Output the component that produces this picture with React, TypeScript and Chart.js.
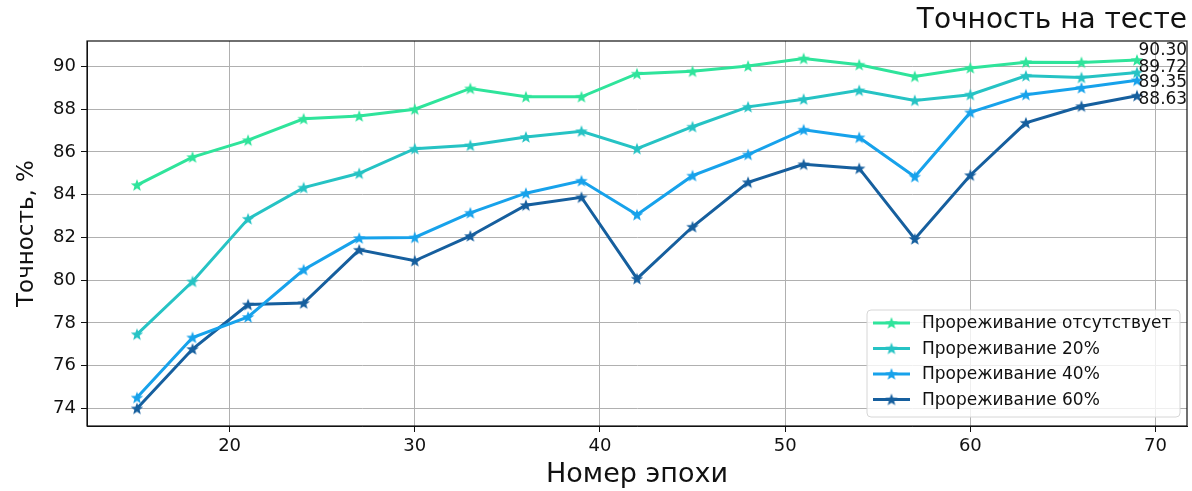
import React, { useEffect, useRef } from 'react';
import { Chart, registerables } from 'chart.js';

Chart.register(...registerables);

// ---------- data ----------
const epochs = [15, 18, 21, 24, 27, 30, 33, 36, 39, 42, 45, 48, 51, 54, 57, 60, 63, 66, 69];
const noPruning = [84.45, 85.76, 86.55, 87.55, 87.68, 88.0, 88.97, 88.58, 88.58, 89.66, 89.77, 90.02, 90.37, 90.08, 89.53, 89.93, 90.2, 90.19, 90.3];
const pruning20 = [77.47, 79.94, 82.87, 84.33, 85.0, 86.15, 86.31, 86.7, 86.97, 86.15, 87.18, 88.11, 88.47, 88.88, 88.41, 88.68, 89.56, 89.48, 89.72];
const pruning40 = [74.51, 77.32, 78.28, 80.49, 81.97, 82.0, 83.15, 84.07, 84.65, 83.06, 84.89, 85.88, 87.04, 86.68, 84.84, 87.85, 88.68, 89.0, 89.35];
const pruning60 = [74.0, 76.78, 78.86, 78.93, 81.42, 80.91, 82.07, 83.51, 83.88, 80.07, 82.5, 84.58, 85.42, 85.23, 81.93, 84.91, 87.36, 88.14, 88.63];

const seriesLabels = ['Прореживание отсутствует', 'Прореживание 20%', 'Прореживание 40%', 'Прореживание 60%'];
const seriesData = [noPruning, pruning20, pruning40, pruning60];
const seriesColors = ['#2fe49b', '#26c3c4', '#17a2eb', '#165f9e'];

const xTicks = [20, 30, 40, 50, 60, 70];
const yTicks = [74, 76, 78, 80, 82, 84, 86, 88, 90];

const titleText = 'Точность на тесте';
const xTitleText = 'Номер эпохи';
const yTitleText = 'Точность, %';

// ---------- styles ----------
const FONT = '"DejaVu Sans", "Noto Sans", sans-serif';
const endLabelOffsets = [-5, 0, 7, 8];

function makeStar(color: string, size: number): HTMLCanvasElement {
  const c = document.createElement('canvas');
  c.width = size;
  c.height = size;
  const ctx = c.getContext('2d')!;
  const cx = size / 2;
  const cy = size / 2 + 0.5;
  const R = size / 2 - 0.5;
  const r = R * 0.42;
  ctx.beginPath();
  for (let i = 0; i < 10; i++) {
    const ang = -Math.PI / 2 + (i * Math.PI) / 5;
    const rad = i % 2 === 0 ? R : r;
    const px = cx + rad * Math.cos(ang);
    const py = cy + rad * Math.sin(ang);
    if (i === 0) ctx.moveTo(px, py);
    else ctx.lineTo(px, py);
  }
  ctx.closePath();
  ctx.fillStyle = color;
  ctx.fill();
  return c;
}

const framePlugin = {
  id: 'frame',
  afterDatasetsDraw(chart: any) {
    const { ctx, chartArea } = chart;
    ctx.save();
    ctx.strokeStyle = '#111';
    ctx.lineWidth = 1.2;
    ctx.strokeRect(chartArea.left, chartArea.top, chartArea.right - chartArea.left, chartArea.bottom - chartArea.top);
    ctx.restore();
  },
};

const endLabelPlugin = {
  id: 'endLabels',
  afterDatasetsDraw(chart: any) {
    const { ctx } = chart;
    const xs = chart.scales.x;
    const ys = chart.scales.y;
    ctx.save();
    ctx.font = `17px ${FONT}`;
    ctx.fillStyle = '#111';
    ctx.textAlign = 'left';
    ctx.textBaseline = 'alphabetic';
    chart.data.datasets.forEach((ds: any, i: number) => {
      const last = ds.data[ds.data.length - 1];
      const px = xs.getPixelForValue(last.x);
      const py = ys.getPixelForValue(last.y);
      ctx.fillText(last.y.toFixed(2), px + 1.5, py + endLabelOffsets[i]);
    });
    ctx.restore();
  },
};

const legendPlugin = {
  id: 'boxLegend',
  afterDraw(chart: any) {
    const { ctx } = chart;
    const x0 = 867;
    const y0 = 310;
    const w = 313;
    const h = 107;
    const rowH = 25.5;
    ctx.save();
    ctx.globalAlpha = 0.8;
    ctx.fillStyle = '#ffffff';
    ctx.beginPath();
    (ctx as any).roundRect(x0, y0, w, h, 4);
    ctx.fill();
    ctx.globalAlpha = 1;
    ctx.strokeStyle = '#d6d6d6';
    ctx.lineWidth = 1;
    ctx.stroke();
    ctx.font = `17px ${FONT}`;
    ctx.textBaseline = 'middle';
    ctx.textAlign = 'left';
    chart.data.datasets.forEach((ds: any, i: number) => {
      const cy = y0 + 13 + i * rowH;
      ctx.strokeStyle = ds.borderColor;
      ctx.lineWidth = 3;
      ctx.beginPath();
      ctx.moveTo(x0 + 6, cy);
      ctx.lineTo(x0 + 43, cy);
      ctx.stroke();
      const img = ds.pointStyle as HTMLCanvasElement;
      ctx.drawImage(img, x0 + 24.5 - img.width / 2, cy - img.height / 2);
      ctx.fillStyle = '#111';
      ctx.fillText(ds.label, x0 + 55, cy + 1);
    });
    ctx.restore();
  },
};

export default function App() {
  const ref = useRef<HTMLCanvasElement | null>(null);

  useEffect(() => {
    document.body.style.margin = '0';
    if (!ref.current) return;
    const datasets = seriesData.map((vals, i) => ({
      label: seriesLabels[i],
      data: vals.map((v, j) => ({ x: epochs[j], y: v })),
      borderColor: seriesColors[i],
      backgroundColor: seriesColors[i],
      borderWidth: 3,
      pointStyle: makeStar(seriesColors[i], 14),
      pointRadius: 7,
      pointHoverRadius: 7,
      tension: 0,
      fill: false,
    }));

    const chart = new Chart(ref.current, {
      type: 'line',
      data: { datasets },
      plugins: [framePlugin, endLabelPlugin, legendPlugin],
      options: {
        animation: false,
        responsive: false,
        devicePixelRatio: 1,
        layout: { autoPadding: false, padding: { left: 0, right: 5, top: 0, bottom: 0 } },
        plugins: {
          legend: { display: false },
          tooltip: { enabled: false },
          title: {
            display: true,
            text: titleText,
            align: 'end',
            color: '#111',
            font: { family: FONT, size: 28, weight: 'normal', lineHeight: 1.2 },
            padding: { top: 4, bottom: 3.4 },
          },
        },
        scales: {
          x: {
            type: 'linear',
            min: 12.3,
            max: 71.7,
            afterFit(scale: any) {
              scale.height = 65;
              scale.paddingLeft = 0;
              scale.paddingRight = 0;
            },
            afterBuildTicks(scale: any) {
              scale.ticks = xTicks.map((v) => ({ value: v }));
            },
            ticks: {
              includeBounds: false,
              color: '#111',
              font: { family: FONT, size: 18 },
              padding: 4,
              maxRotation: 0,
              callback: (v: any) => String(v),
            },
            grid: { color: '#b0b0b0', lineWidth: 1, tickColor: '#111', tickLength: 6, drawTicks: true },
            border: { display: true, color: '#111', width: 1 },
            title: {
              display: true,
              text: xTitleText,
              color: '#111',
              font: { family: FONT, size: 27, lineHeight: 1.2 },
              padding: { top: 0, bottom: 0 },
            },
          },
          y: {
            type: 'linear',
            min: 73.18,
            max: 91.19,
            afterFit(scale: any) {
              scale.width = 87;
              scale.paddingTop = 0;
              scale.paddingBottom = 0;
            },
            afterBuildTicks(scale: any) {
              scale.ticks = yTicks.map((v) => ({ value: v }));
            },
            ticks: {
              includeBounds: false,
              color: '#111',
              font: { family: FONT, size: 18 },
              padding: 5,
              callback: (v: any) => String(v),
            },
            grid: { color: '#b0b0b0', lineWidth: 1, tickColor: '#111', tickLength: 6, drawTicks: true },
            border: { display: true, color: '#111', width: 1 },
            title: {
              display: true,
              text: yTitleText,
              color: '#111',
              font: { family: FONT, size: 23, lineHeight: 1.2 },
              padding: { top: 13, bottom: 0 },
            },
          },
        },
      } as any,
    });
    return () => chart.destroy();
  }, []);

  return (
    <div style={{ position: 'absolute', left: 0, top: 0, width: 1192, height: 491 }}>
      <canvas ref={ref} width={1192} height={491} />
    </div>
  );
}
